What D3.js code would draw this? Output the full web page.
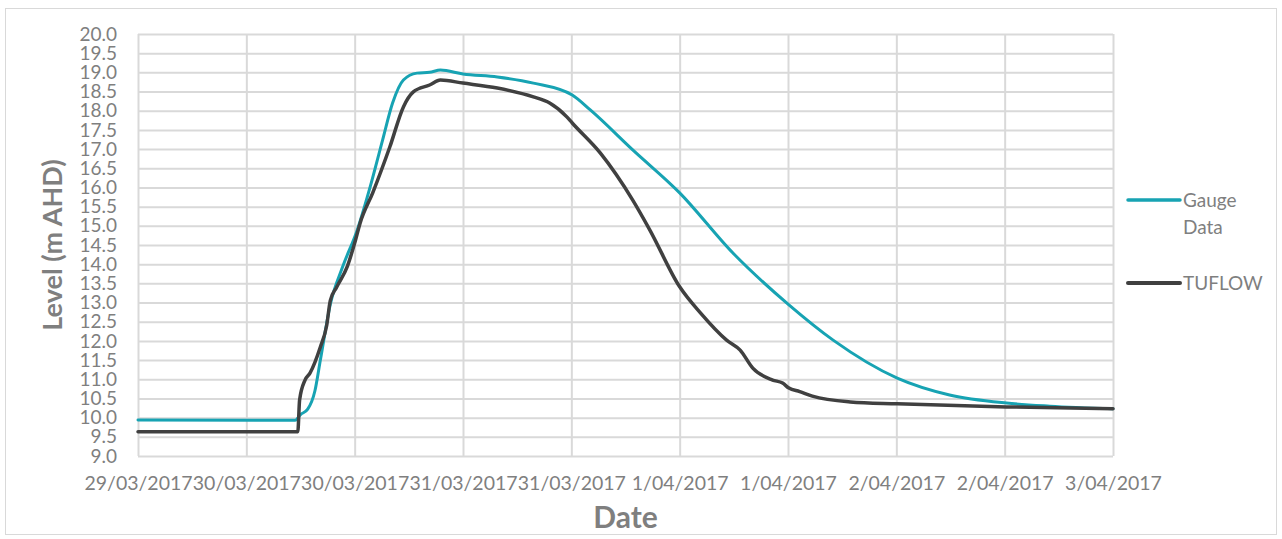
<!DOCTYPE html>
<html>
<head>
<meta charset="utf-8">
<script src="https://cdn.jsdelivr.net/npm/d3@7"></script>
<style>
  body { margin: 0; background: #fff; }
  svg { display: block; font-family: Lato, "Open Sans", sans-serif; }
</style>
</head>
<body>
<script>
// gauge readings
const gaugeTimes = [
  '2017-03-29T12:00', '2017-03-30T05:24', '2017-03-30T06:00', '2017-03-30T06:48',
  '2017-03-30T07:36', '2017-03-30T08:12', '2017-03-30T09:18', '2017-03-30T10:42',
  '2017-03-30T12:18', '2017-03-30T13:42', '2017-03-30T15:06', '2017-03-30T16:12',
  '2017-03-30T17:24', '2017-03-30T18:54', '2017-03-30T20:18', '2017-03-30T21:30',
  '2017-03-31T00:00', '2017-03-31T03:48', '2017-03-31T07:48', '2017-03-31T12:06',
  '2017-03-31T14:06', '2017-03-31T18:48', '2017-04-01T00:00', '2017-04-01T05:54',
  '2017-04-01T12:06', '2017-04-01T17:00', '2017-04-02T00:06', '2017-04-02T05:54',
  '2017-04-02T12:12', '2017-04-02T17:00', '2017-04-03T00:00'
];
const gaugeLevels = [
  9.94, 9.93, 10.08, 10.22,
  10.7, 11.5, 12.95, 13.95,
  14.9, 16.0, 17.24, 18.2,
  18.8, 18.98, 19.0, 19.06,
  18.96, 18.88, 18.72, 18.41,
  18.02, 16.98, 15.86, 14.29,
  12.94, 12.02, 11.03, 10.59,
  10.38, 10.30, 10.23
];

// model output
const tuflowTimes = [
  '2017-03-29T12:00', '2017-03-30T05:42', '2017-03-30T05:54', '2017-03-30T06:30',
  '2017-03-30T07:03', '2017-03-30T08:12', '2017-03-30T08:54', '2017-03-30T09:18',
  '2017-03-30T10:00', '2017-03-30T11:12', '2017-03-30T12:00', '2017-03-30T12:36',
  '2017-03-30T14:00', '2017-03-30T15:54', '2017-03-30T17:24', '2017-03-30T18:30',
  '2017-03-30T20:18', '2017-03-30T21:30', '2017-03-31T00:00', '2017-03-31T03:48',
  '2017-03-31T07:48', '2017-03-31T09:36', '2017-03-31T11:30', '2017-03-31T12:06',
  '2017-03-31T15:12', '2017-03-31T18:48', '2017-03-31T20:42', '2017-04-01T00:00',
  '2017-04-01T02:18', '2017-04-01T05:12', '2017-04-01T06:42', '2017-04-01T08:06',
  '2017-04-01T10:18', '2017-04-01T11:24', '2017-04-01T12:06', '2017-04-01T13:18',
  '2017-04-01T14:42', '2017-04-01T18:54', '2017-04-02T00:06', '2017-04-02T12:12',
  '2017-04-03T00:00'
];
const tuflowLevels = [
  9.63, 9.63, 10.46, 10.98,
  11.16, 11.84, 12.4, 13.05,
  13.4, 13.95, 14.55, 15.07,
  15.86, 17.06, 18.1, 18.49,
  18.67, 18.8, 18.72, 18.59,
  18.36, 18.2, 17.84, 17.68,
  16.9, 15.67, 14.89, 13.41,
  12.73, 12.02, 11.76, 11.29,
  10.98, 10.9, 10.77, 10.68,
  10.56, 10.41, 10.36, 10.28,
  10.23
];

const xTicks = [
  '2017-03-29T12:00', '2017-03-30T00:00', '2017-03-30T12:00', '2017-03-31T00:00',
  '2017-03-31T12:00', '2017-04-01T00:00', '2017-04-01T12:00', '2017-04-02T00:00',
  '2017-04-02T12:00', '2017-04-03T00:00'
];
const yTicks = d3.range(9, 20.001, 0.5);

const seriesNames = ['Gauge Data', 'TUFLOW'];
const seriesColors = ['#17a3b3', '#404040'];

let margin = {top: 34, right: 169, bottom: 83, left: 138},
    width = 1282 - margin.left - margin.right,
    height = 539 - margin.top - margin.bottom;

let parse = d3.timeParse('%Y-%m-%dT%H:%M');
let fmt = d => `${d.getDate()}/${d3.timeFormat('%m/%Y')(d)}`;

let svg = d3.select('body').append('svg')
    .attr('width', 1282)
    .attr('height', 539);

// chart area border
svg.append('rect')
    .attr('x', 5.5).attr('y', 8.5)
    .attr('width', 1271).attr('height', 526)
    .style('fill', 'none')
    .style('stroke', '#d9d9d9')
    .style('stroke-width', 1);

let g = svg.append('g')
    .attr('transform', `translate(${margin.left},${margin.top})`);

let x = d3.scaleTime()
    .domain([parse(xTicks[0]), parse(xTicks[xTicks.length - 1])])
    .range([0, width]);
let y = d3.scaleLinear()
    .domain([9, 20])
    .range([height, 0]);

// gridlines
g.append('g')
    .call(d3.axisLeft(y).tickValues(yTicks).tickSize(-width).tickFormat(''))
    .call(a => a.select('.domain').remove())
    .selectAll('line').style('stroke', '#d9d9d9').style('stroke-width', 2);
g.append('g')
    .attr('transform', `translate(0,${height})`)
    .call(d3.axisBottom(x).tickValues(xTicks.map(parse)).tickSize(-height).tickFormat(''))
    .call(a => a.select('.domain').remove())
    .selectAll('line').style('stroke', '#d9d9d9').style('stroke-width', 2);

// tick labels
let yAxis = g.append('g')
    .call(d3.axisLeft(y).tickValues(yTicks).tickSize(0).tickPadding(21).tickFormat(d3.format('.1f')));
yAxis.select('.domain').remove();
yAxis.selectAll('text')
    .style('font-family', 'Lato, sans-serif')
    .style('font-size', '19px')
    .style('fill', '#7f7f7f');

let xAxis = g.append('g')
    .attr('transform', `translate(0,${height})`)
    .call(d3.axisBottom(x).tickValues(xTicks.map(parse)).tickSize(0).tickPadding(20).tickFormat(fmt));
xAxis.select('.domain').remove();
xAxis.selectAll('text')
    .style('font-family', 'Lato, sans-serif')
    .style('font-size', '19.5px')
    .style('fill', '#7f7f7f');

// axis titles
svg.append('text')
    .attr('x', margin.left + width / 2)
    .attr('y', 528)
    .attr('text-anchor', 'middle')
    .style('font-size', '30px')
    .style('font-weight', 'bold')
    .style('fill', '#7f7f7f')
    .text('Date');
svg.append('text')
    .attr('transform', `translate(62,${margin.top + height / 2}) rotate(-90)`)
    .attr('text-anchor', 'middle')
    .style('font-size', '27px')
    .style('font-weight', 'bold')
    .style('fill', '#7f7f7f')
    .text('Level (m AHD)');

// lines
let lineGen = d3.line()
    .x(d => x(d[0]))
    .y(d => y(d[1]))
    .curve(d3.curveMonotoneX);

let series = [
    gaugeTimes.map((t, i) => [parse(t), gaugeLevels[i]]),
    tuflowTimes.map((t, i) => [parse(t), tuflowLevels[i]])
];

g.selectAll('.series').data(series)
    .enter().append('path')
    .attr('class', 'series')
    .attr('d', d => lineGen(d))
    .style('fill', 'none')
    .style('stroke', (d, i) => seriesColors[i])
    .style('stroke-width', (d, i) => i ? 3.5 : 3)
    .style('stroke-linejoin', 'round')
    .style('stroke-linecap', 'round');

// legend
let legendY = [200, 283];
let legend = svg.selectAll('.legend').data(seriesNames)
    .enter().append('g')
    .attr('class', 'legend')
    .attr('transform', (d, i) => `translate(1128,${legendY[i]})`);
legend.append('line')
    .attr('x1', 0).attr('x2', 52)
    .style('stroke', (d, i) => seriesColors[i])
    .style('stroke-width', (d, i) => i ? 4 : 3.5)
    .style('stroke-linecap', 'round');
legend.each(function(d) {
    let t = d3.select(this).append('text')
        .attr('x', 55)
        .attr('y', 7)
        .style('font-size', '19px')
        .style('fill', '#7f7f7f');
    d.split(' ').forEach((w, j) => {
        t.append('tspan').attr('x', 55).attr('dy', j ? 27 : 0).text(w);
    });
});
</script>
</body>
</html>
